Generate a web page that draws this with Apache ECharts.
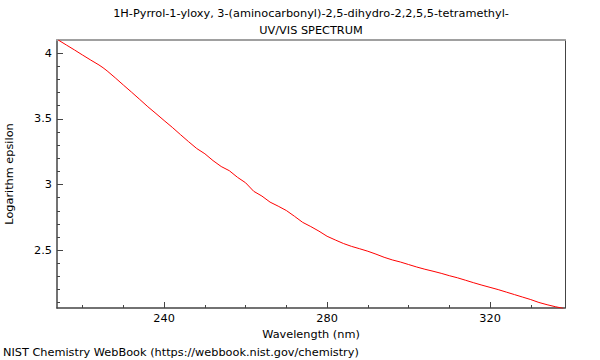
<!DOCTYPE html>
<html><head><meta charset="utf-8">
<script src="https://cdn.jsdelivr.net/npm/echarts@6/dist/echarts.min.js"></script>
<style>html,body{margin:0;padding:0;background:#fff}#c{width:600px;height:360px}</style>
</head><body><div id="c"></div>
<script>
const wavelength = [214,216,218,220,222,224,225,226,228,230,232,234,236,238,240,242,244,246,248,250,252,254,256,258,260,262,264,266,268,270,272,274,276,278,280,282,284,286,288,290,292,294,296,298,300,302,304,306,308,310,312,314,316,318,320,322,324,326,328,330,332,334,336,338];
const logEpsilon = [4.100,4.062,4.024,3.985,3.947,3.910,3.889,3.865,3.812,3.757,3.703,3.648,3.592,3.540,3.487,3.435,3.380,3.326,3.274,3.234,3.182,3.137,3.105,3.055,3.013,2.948,2.912,2.866,2.835,2.802,2.758,2.712,2.680,2.645,2.606,2.578,2.551,2.529,2.511,2.492,2.470,2.446,2.426,2.410,2.391,2.372,2.355,2.340,2.324,2.306,2.290,2.271,2.252,2.234,2.217,2.200,2.181,2.162,2.143,2.124,2.102,2.085,2.070,2.057];
const xMajorTicks = [240,280,320];
const xMinorTicks = [220,230,250,260,270,290,300,310,330];
const yMajorTicks = [2.5,3,3.5,4];
const yMinorTicks = [2.1,2.2,2.3,2.4,2.6,2.7,2.8,2.9,3.1,3.2,3.3,3.4,3.6,3.7,3.8,3.9];
const titleLines = ['1H-Pyrrol-1-yloxy, 3-(aminocarbonyl)-2,5-dihydro-2,2,5,5-tetramethyl-','UV/VIS SPECTRUM'];
const footer = 'NIST Chemistry WebBook (https://webbook.nist.gov/chemistry)';
const xMin = 213.7, xMax = 338.4, yMin = 2.06, yMax = 4.1;

const FONT = 'DejaVu Sans';
const FS = 11.3;
const axisDark = '#444';
const chart = echarts.init(document.getElementById('c'), null, {renderer:'svg'});
const baseX = {type:'value', min:xMin, max:xMax, splitLine:{show:false}};
const baseY = {type:'value', min:yMin, max:yMax, splitLine:{show:false}};
chart.setOption({
  animation:false,
  textStyle:{fontFamily:FONT},
  grid:{left:57, right:35, top:40, bottom:52, containLabel:false, outerBoundsMode:'none'},
  graphic:[
    {type:'text', x:311, y:13, style:{text:titleLines[0], fontFamily:FONT, fontSize:FS, fill:'#000', textAlign:'center', textVerticalAlign:'middle'}},
    {type:'text', x:311, y:30, style:{text:titleLines[1], fontFamily:FONT, fontSize:FS, fill:'#000', textAlign:'center', textVerticalAlign:'middle'}},
    {type:'text', x:3, y:352, style:{text:footer, fontFamily:FONT, fontSize:FS, fill:'#000', textAlign:'left', textVerticalAlign:'middle'}}
  ],
  xAxis:[
    Object.assign({}, baseX, {position:'bottom', name:'Wavelength (nm)', nameLocation:'middle', nameGap:16,
      nameTextStyle:{fontFamily:FONT, fontSize:FS, color:'#000'},
      axisLine:{show:true, lineStyle:{color:axisDark, width:1.5}},
      axisTick:{show:true, inside:true, length:6, customValues:xMajorTicks, lineStyle:{color:axisDark}},
      axisLabel:{show:true, margin:5, customValues:xMajorTicks, fontFamily:FONT, fontSize:FS, color:'#000'}}),
    Object.assign({}, baseX, {position:'bottom',
      axisLine:{show:false},
      axisTick:{show:true, inside:true, length:3, customValues:xMinorTicks, lineStyle:{color:axisDark}},
      axisLabel:{show:false}}),
    Object.assign({}, baseX, {position:'top',
      axisLine:{show:true, lineStyle:{color:'#a0a0a0', width:2}},
      axisTick:{show:false}, axisLabel:{show:false}})
  ],
  yAxis:[
    Object.assign({}, baseY, {position:'left', name:'Logarithm epsilon', nameLocation:'middle', nameGap:42,
      nameTextStyle:{fontFamily:FONT, fontSize:FS, color:'#000'},
      axisLine:{show:true, lineStyle:{color:axisDark, width:1.5}},
      axisTick:{show:true, inside:true, length:6, customValues:yMajorTicks, lineStyle:{color:axisDark}},
      axisLabel:{show:true, margin:5, customValues:yMajorTicks, fontFamily:FONT, fontSize:FS, color:'#000'}}),
    Object.assign({}, baseY, {position:'left',
      axisLine:{show:false},
      axisTick:{show:true, inside:true, length:3, customValues:yMinorTicks, lineStyle:{color:axisDark}},
      axisLabel:{show:false}}),
    Object.assign({}, baseY, {position:'right',
      axisLine:{show:true, lineStyle:{color:axisDark, width:1}},
      axisTick:{show:false}, axisLabel:{show:false}})
  ],
  series:[{
    type:'line', xAxisIndex:0, yAxisIndex:0, showSymbol:false, symbol:'none',
    lineStyle:{color:'#ff0000', width:1}, silent:true,
    data: wavelength.map((w,i)=>[w, logEpsilon[i]])
  }]
});
</script></body></html>
